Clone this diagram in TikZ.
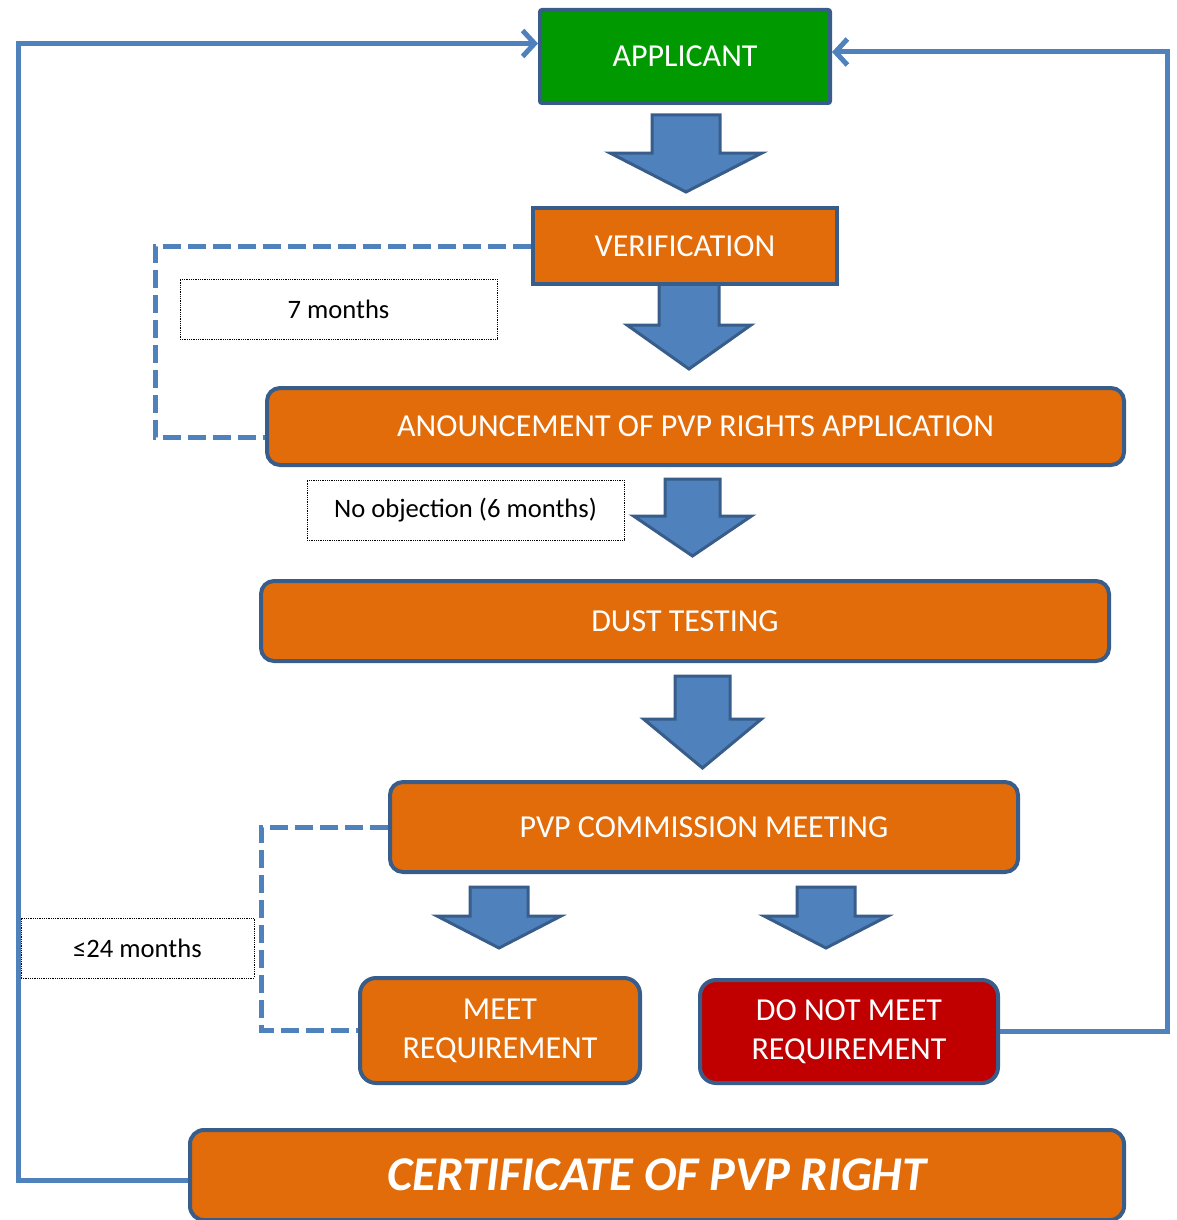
\documentclass[tikz,border=0pt]{standalone}
\usepackage{fontspec}
\setmainfont{Carlito}
\usetikzlibrary{arrows.meta,calc}
\definecolor{orng}{HTML}{E36C0A}
\definecolor{grn}{HTML}{009900}
\definecolor{rd}{HTML}{C00000}
\definecolor{bord}{HTML}{385D8A}
\definecolor{cblue}{HTML}{4F81BD}
\newcommand\blkarrow[6]{% cx, shaft top, shaft half width, head y, head half width, tip y
  \path[barrow] (#1-#3,#2) -- (#1+#3,#2) -- (#1+#3,#4) -- (#1+#5,#4) -- (#1,#6) -- (#1-#5,#4) -- (#1-#3,#4) -- cycle;}
\begin{document}
\begin{tikzpicture}[x=1pt,y=-1pt,
  box/.style={draw=bord, line width=4pt, text=white, font=\fontsize{32}{39}\selectfont, align=center, inner sep=0pt},
  rbox/.style={box, rounded corners=13pt},
  lab/.style={draw=black, densely dotted, line width=0.8pt, fill=white, font=\fontsize{26.6}{31}\selectfont, minimum height=60pt, inner sep=0pt},
  conn/.style={draw=cblue, line width=5pt, -{Straight Barb[length=12pt,width=26pt]}},
  dashline/.style={draw=cblue, line width=5pt, dash pattern=on 18pt off 7pt},
  barrow/.style={fill=cblue, draw=bord, line width=3pt, line join=miter}]
\useasboundingbox (0,0) rectangle (1176,1220);

% block arrows
\blkarrow{686}{115}{34}{153}{76}{192}
\blkarrow{689}{284}{30}{325}{62}{369}
\blkarrow{692.5}{479}{27.5}{516}{59}{556}
\blkarrow{702.5}{676}{27.5}{719}{59}{768}
\blkarrow{499}{887}{29}{916}{62}{948}
\blkarrow{826}{887}{29}{916}{62}{948}

% boxes
\node[box, fill=grn, rounded corners=2pt, minimum width=290pt, minimum height=93pt] (app) at (685,56.5) {APPLICANT};
\node[box, fill=orng, minimum width=304pt, minimum height=76pt] (ver) at (685,246) {VERIFICATION};
\node[rbox, fill=orng, minimum width=857pt, minimum height=77pt] (ann) at (695.5,426.5) {ANOUNCEMENT OF PVP RIGHTS APPLICATION};
\node[rbox, fill=orng, minimum width=848pt, minimum height=80pt] (dust) at (685,621) {DUST TESTING};
\node[rbox, fill=orng, minimum width=628pt, minimum height=90pt] (pvp) at (704,827) {PVP COMMISSION MEETING};
\node[rbox, rounded corners=16pt, fill=orng, minimum width=280pt, minimum height=105pt] (meet) at (500,1030.5) {MEET\\REQUIREMENT};
\node[rbox, rounded corners=16pt, fill=rd, minimum width=298pt, minimum height=103pt] (nomeet) at (849,1031.5) {DO NOT MEET\\REQUIREMENT};
\node[rbox, rounded corners=14pt, fill=orng, minimum width=934pt, minimum height=90pt, font=\fontsize{48.5}{56}\selectfont\bfseries\itshape] (cert) at (657,1175) {CERTIFICATE OF PVP RIGHT};

% labels
\node[lab, minimum width=317pt] (l7) at (338.5,309) {7 months};
\node[lab, minimum width=317pt] (lno) at (465.5,510) {No objection (6 months)};
\node[lab, minimum width=233pt] (l24) at (137.5,948) {≤24 months};

% dashed brackets
\draw[dashline] (ver.west) -- ++(-376,0) |- ($(ann.west)+(0,10.5)$);
\draw[dashline] (pvp.west) -- ++(-127,0) |- (meet.west);

% loop connectors
\draw[conn] (cert.west |- 0,1180) -- (18,1180) |- ($(app.west)+(0,-13)$);
\draw[conn] (nomeet.east) -- (1167,1031.5) |- ($(app.east)+(0,-4.5)$);
\end{tikzpicture}
\end{document}
